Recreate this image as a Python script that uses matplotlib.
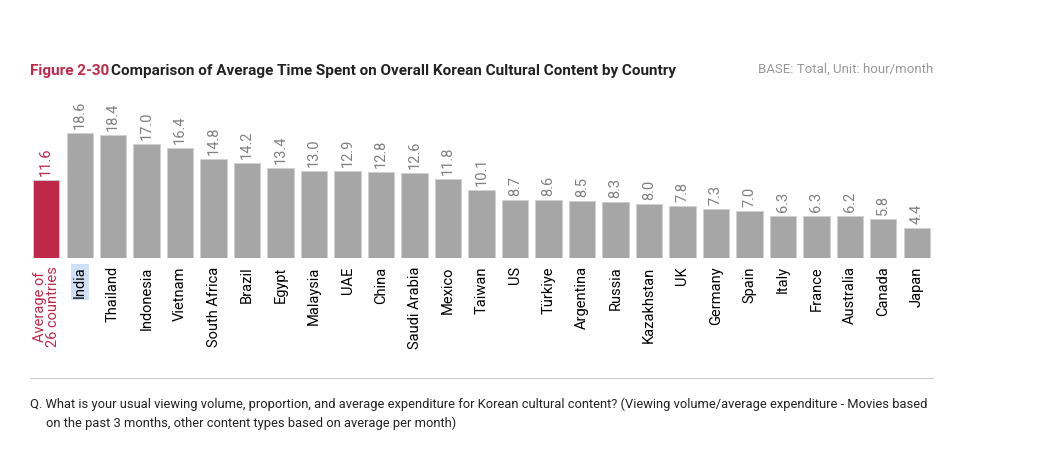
import matplotlib.pyplot as plt

countries = ["Average of\n26 countries", "India", "Thailand", "Indonesia", "Vietnam",
             "South Africa", "Brazil", "Egypt", "Malaysia", "UAE", "China",
             "Saudi Arabia", "Mexico", "Taiwan", "US", "Türkiye", "Argentina",
             "Russia", "Kazakhstan", "UK", "Germany", "Spain", "Italy", "France",
             "Australia", "Canada", "Japan"]
values = [11.6, 18.6, 18.4, 17.0, 16.4, 14.8, 14.2, 13.4, 13.0, 12.9, 12.8,
          12.6, 11.8, 10.1, 8.7, 8.6, 8.5, 8.3, 8.0, 7.8, 7.3, 7.0, 6.3, 6.3,
          6.2, 5.8, 4.4]

RED = "#c0284a"
GRAY = "#a6a6a6"

plt.rcParams["font.family"] = ["Roboto", "DejaVu Sans"]
fig = plt.figure(figsize=(10.48, 4.5), dpi=100)
n = len(values)
left, right = 30 / 1048, 933 / 1048
ax = fig.add_axes([left, 1 - 258 / 450, right - left, 163 / 450])
x = list(range(n))
colors = [RED] + [GRAY] * (n - 1)
ax.bar(x, values, width=0.78, color=colors, edgecolor="#d0d0d0", linewidth=0.6)
ax.set_xlim(-0.48, n - 0.52)
ax.set_ylim(0, 24.3)
for i, v in enumerate(values):
    ax.text(i, v + 0.6, f"{v:.1f}", rotation=90, ha="center", va="bottom",
            fontsize=10.5, color=RED if i == 0 else "#808080")
ax.set_xticks(x)
ax.set_xticklabels(countries, rotation=90, fontsize=10.5, va="top", ha="center",
                   linespacing=0.9)
ax.get_xticklabels()[0].set_color(RED)
ax.get_xticklabels()[1].set_bbox(dict(facecolor="#cfe0f7", edgecolor="none", pad=1.5))
ax.tick_params(axis="x", length=0, pad=6)
ax.set_yticks([])
for s in ax.spines.values():
    s.set_visible(False)

fig.text(30 / 1048, 1 - 71 / 450, "Figure 2-30", color=RED, fontsize=11,
         fontweight="bold", va="center")
fig.text(111 / 1048, 1 - 71 / 450,
         "Comparison of Average Time Spent on Overall Korean Cultural Content by Country",
         color="#222222", fontsize=11, fontweight="bold", va="center")
fig.text(933 / 1048, 1 - 69 / 450, "BASE: Total, Unit: hour/month", color="#999999",
         fontsize=9.5, ha="right", va="center")
fig.add_artist(plt.Line2D([30 / 1048, 933 / 1048], [1 - 378 / 450] * 2,
                          color="#cccccc", linewidth=0.8))
fig.text(30 / 1048, 1 - 404 / 450,
         "Q. What is your usual viewing volume, proportion, and average expenditure for Korean cultural content? (Viewing volume/average expenditure - Movies based",
         fontsize=9.3, color="#222222", va="center")
fig.text(46 / 1048, 1 - 423 / 450,
         "on the past 3 months, other content types based on average per month)",
         fontsize=9.3, color="#222222", va="center")

fig.savefig("out.png", dpi=100)
